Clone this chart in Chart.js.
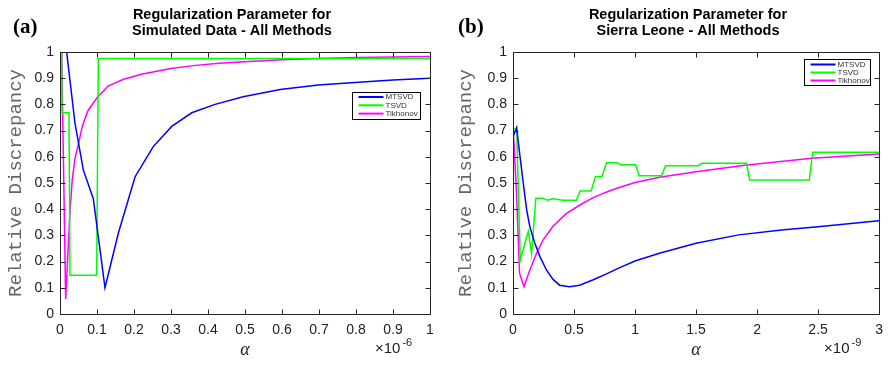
<!DOCTYPE html>
<html>
<head>
<meta charset="utf-8">
<script src="https://cdn.jsdelivr.net/npm/chart.js@4.4.1/dist/chart.umd.min.js"></script>
<style>
  html, body { margin: 0; padding: 0; background: #fff; }
  canvas { position: absolute; top: 0; }
  #chartA { left: 0; }
  #chartB { left: 445px; }
</style>
</head>
<body>
<canvas id="chartA" width="445" height="366"></canvas>
<canvas id="chartB" width="446" height="366"></canvas>
<script>
// series names and colours
const seriesLabels = ['MTSVD', 'TSVD', 'Tikhonov'];
const seriesColors = ['#0000ff', '#00ff00', '#ff00ff'];

// tick labels
const yTicks = [0, 0.1, 0.2, 0.3, 0.4, 0.5, 0.6, 0.7, 0.8, 0.9, 1];
const xTicksA = [0, 0.1, 0.2, 0.3, 0.4, 0.5, 0.6, 0.7, 0.8, 0.9, 1];
const xTicksB = [0, 0.5, 1, 1.5, 2, 2.5, 3];

// (a) simulated data, alpha in units of 1e-6
const alphaA_mtsvd = [0.012, 0.018, 0.0405, 0.063, 0.09, 0.1216, 0.158, 0.203, 0.252, 0.302, 0.356, 0.419, 0.495, 0.595, 0.698, 0.797, 0.9, 1.0];
const relA_mtsvd   = [1.08, 1.0, 0.728, 0.55, 0.44, 0.10, 0.31, 0.524, 0.639, 0.716, 0.768, 0.80, 0.829, 0.857, 0.874, 0.884, 0.893, 0.90];

const alphaA_tsvd = [0.004, 0.0045, 0.0055, 0.0243, 0.027, 0.099, 0.1036, 1.0];
const relA_tsvd   = [1.05, 1.0, 0.768, 0.768, 0.148, 0.148, 0.975, 0.975];

const alphaA_tik = [0.0045, 0.0153, 0.022, 0.027, 0.033, 0.04, 0.05, 0.06, 0.075, 0.1, 0.13, 0.17, 0.22, 0.3, 0.36, 0.43, 0.5, 0.6, 0.7, 0.8, 0.9, 1.0];
const relA_tik   = [1.0, 0.057, 0.25, 0.39, 0.51, 0.59, 0.65, 0.715, 0.775, 0.825, 0.87, 0.895, 0.915, 0.937, 0.948, 0.957, 0.963, 0.970, 0.975, 0.979, 0.981, 0.983];

// (b) Sierra Leone, alpha in units of 1e-9
const alphaB_mtsvd = [0.003, 0.03, 0.054, 0.084, 0.111, 0.138, 0.179, 0.22, 0.274, 0.328, 0.382, 0.463, 0.545, 0.653, 0.762, 0.87, 1.0, 1.2, 1.5, 1.85, 2.2, 2.5, 3.0];
const relB_mtsvd   = [0.68, 0.712, 0.614, 0.50, 0.40, 0.333, 0.27, 0.22, 0.168, 0.132, 0.11, 0.104, 0.11, 0.13, 0.152, 0.176, 0.202, 0.232, 0.27, 0.302, 0.321, 0.333, 0.356];

const alphaB_tsvd = [0.003, 0.03, 0.06, 0.125, 0.152, 0.187, 0.247, 0.279, 0.328, 0.41, 0.518, 0.55, 0.64, 0.675, 0.729, 0.767, 0.857, 0.88, 1.005, 1.033, 1.217, 1.25, 1.52, 1.547, 1.913, 1.94, 2.428, 2.455, 3.0];
const relB_tsvd   = [0.71, 0.70, 0.205, 0.315, 0.23, 0.442, 0.442, 0.434, 0.44, 0.434, 0.434, 0.469, 0.469, 0.525, 0.525, 0.577, 0.577, 0.57, 0.57, 0.528, 0.528, 0.566, 0.566, 0.575, 0.575, 0.511, 0.511, 0.617, 0.617];

const alphaB_tik = [0.003, 0.027, 0.054, 0.09, 0.138, 0.193, 0.247, 0.328, 0.436, 0.545, 0.653, 0.762, 0.87, 1.0, 1.2, 1.5, 1.9, 2.45, 3.0];
const relB_tik   = [0.70, 0.48, 0.155, 0.104, 0.168, 0.232, 0.283, 0.335, 0.383, 0.415, 0.443, 0.465, 0.483, 0.502, 0.522, 0.543, 0.568, 0.594, 0.611];

const pts = (xs, ys) => xs.map((x, i) => ({ x: x, y: ys[i] }));
const fmt = v => String(Number(v.toFixed(1)));
const tickFont = { family: '"Liberation Sans", Arial, sans-serif', size: 14 };

// frame with inward ticks, titles, exponent and boxed legend (MATLAB look)
const panelDecor = {
    id: 'panelDecor',
    afterDraw(chart, args, o) {
        const ctx = chart.ctx;
        const a = chart.chartArea;
        const xs = chart.scales.x, ys = chart.scales.y;
        const L = Math.round(a.left) + 0.5, R = Math.round(a.right) + 0.5;
        const T = Math.round(a.top) + 0.5, B = Math.round(a.bottom) + 0.5;
        ctx.save();
        ctx.strokeStyle = '#262626';
        ctx.lineWidth = 1;
        ctx.strokeRect(L, T, R - L, B - T);
        ctx.beginPath();
        xs.ticks.forEach(t => {
            const px = Math.round(xs.getPixelForValue(t.value)) + 0.5;
            ctx.moveTo(px, B); ctx.lineTo(px, B - 5);
            ctx.moveTo(px, T); ctx.lineTo(px, T + 5);
        });
        ys.ticks.forEach(t => {
            const py = Math.round(ys.getPixelForValue(t.value)) + 0.5;
            ctx.moveTo(L, py); ctx.lineTo(L + 5, py);
            ctx.moveTo(R, py); ctx.lineTo(R - 5, py);
        });
        ctx.stroke();

        // title
        ctx.fillStyle = '#000';
        ctx.textAlign = 'center';
        ctx.textBaseline = 'alphabetic';
        ctx.font = 'bold 14.5px "Liberation Sans", Arial, sans-serif';
        o.titleLines.forEach((line, i) => ctx.fillText(line, o.titleX, 18.5 + i * 16.5));

        // panel letter
        ctx.textAlign = 'left';
        ctx.font = 'bold 21px "Liberation Serif", "Times New Roman", serif';
        ctx.fillText(o.letter, o.letterX, 33);

        // exponent under x axis
        ctx.fillStyle = '#222';
        ctx.font = '15px "Liberation Sans", Arial, sans-serif';
        const x0 = a.right - 55;
        ctx.fillText('\u00d710', x0, 353);
        const w = ctx.measureText('\u00d710').width;
        ctx.font = '11px "Liberation Sans", Arial, sans-serif';
        ctx.fillText(o.expText, x0 + w + 2, 346);

        // legend
        const lg = o.legend;
        const lr = Math.round(a.right - lg.right) + 0.5;
        const lt = Math.round(a.top + lg.top) + 0.5;
        const ll = lr - lg.width;
        ctx.fillStyle = '#fff';
        ctx.fillRect(ll, lt, lg.width, lg.height);
        ctx.strokeStyle = '#000';
        ctx.strokeRect(ll, lt, lg.width, lg.height);
        ctx.font = '8px "Liberation Sans", Arial, sans-serif';
        ctx.textBaseline = 'middle';
        chart.data.datasets.forEach((ds, i) => {
            const y = lt + lg.rowTop + i * lg.rowStep;
            ctx.strokeStyle = ds.borderColor;
            ctx.lineWidth = 2;
            ctx.beginPath();
            ctx.moveTo(ll + 6, y); ctx.lineTo(ll + 31, y);
            ctx.stroke();
            ctx.fillStyle = '#333';
            ctx.fillText(ds.label, ll + 33, y);
        });
        ctx.restore();
    }
};

function makePanel(id, p) {
    return new Chart(document.getElementById(id), {
        type: 'line',
        data: {
            datasets: p.series.map((s, i) => ({
                label: seriesLabels[i],
                data: pts(s[0], s[1]),
                borderColor: seriesColors[i],
                borderWidth: 1.5,
                pointRadius: 0,
                tension: 0,
                fill: false
            }))
        },
        options: {
            responsive: false,
            animation: false,
            layout: { padding: { left: 0, right: p.padRight, top: 52, bottom: 0 } },
            plugins: {
                legend: { display: false },
                tooltip: { enabled: false },
                panelDecor: p.decor
            },
            scales: {
                x: {
                    type: 'linear',
                    min: 0,
                    max: p.xMax,
                    afterBuildTicks: s => { s.ticks = p.xTicks.map(v => ({ value: v })); },
                    afterFit: s => { s.height = 52; },
                    grid: { display: false, drawTicks: false },
                    border: { display: false },
                    ticks: { padding: 8, font: tickFont, color: '#222', maxRotation: 0, autoSkip: false, callback: v => fmt(v) },
                    title: {
                        display: true,
                        text: 'α',
                        color: '#222',
                        font: { family: '"Liberation Serif", "Times New Roman", serif', size: 18, style: 'italic' },
                        padding: { top: 0, bottom: 5 }
                    }
                },
                y: {
                    min: 0,
                    max: 1,
                    afterBuildTicks: s => { s.ticks = yTicks.map(v => ({ value: v })); },
                    afterFit: s => { s.width = p.yWidth; },
                    grid: { display: false, drawTicks: false },
                    border: { display: false },
                    ticks: { padding: 6, font: tickFont, color: '#222', autoSkip: false, callback: v => fmt(v) },
                    title: {
                        display: true,
                        text: 'Relative Discrepancy',
                        color: '#666',
                        font: { family: '"Liberation Mono", "Courier New", monospace', size: 19 },
                        padding: { top: p.yTitlePad, bottom: 0 }
                    }
                }
            }
        },
        plugins: [panelDecor]
    });
}

makePanel('chartA', {
    series: [[alphaA_mtsvd, relA_mtsvd], [alphaA_tsvd, relA_tsvd], [alphaA_tik, relA_tik]],
    xMax: 1,
    xTicks: xTicksA,
    yWidth: 60,
    padRight: 15,
    yTitlePad: 5,
    decor: {
        letter: '(a)', letterX: 13,
        titleLines: ['Regularization Parameter for', 'Simulated Data - All Methods'], titleX: 232,
        expText: '-6',
        legend: { right: 10, top: 40, width: 68, height: 27, rowTop: 4.5, rowStep: 8.3 }
    }
});

makePanel('chartB', {
    series: [[alphaB_mtsvd, relB_mtsvd], [alphaB_tsvd, relB_tsvd], [alphaB_tik, relB_tik]],
    xMax: 3,
    xTicks: xTicksB,
    yWidth: 68,
    padRight: 9,
    yTitlePad: 10,
    decor: {
        letter: '(b)', letterX: 13,
        titleLines: ['Regularization Parameter for', 'Sierra Leone - All Methods'], titleX: 243,
        expText: '-9',
        legend: { right: 9, top: 7, width: 66, height: 26, rowTop: 5, rowStep: 8 }
    }
});
</script>
</body>
</html>
